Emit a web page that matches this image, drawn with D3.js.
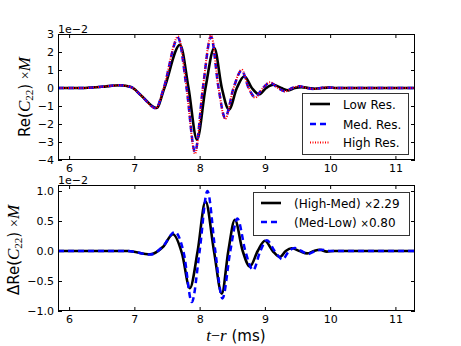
<!DOCTYPE html>
<html>
<head>
<meta charset="utf-8">
<script src="https://cdn.jsdelivr.net/npm/d3@7"></script>
<style>
body { margin: 0; background: #fff; }
svg text { font-family: "DejaVu Sans", sans-serif; }
</style>
</head>
<body>
<svg id="chart" width="461" height="346"></svg>
<script>
// top panel: Re(C22) x M, units of 1e-2
const lowT  = [5.83, 6.2, 6.5, 6.78, 6.95, 7.1, 7.34, 7.46, 7.70, 7.83, 7.96, 8.09, 8.225, 8.34, 8.45, 8.57, 8.685, 8.80, 8.91, 9.02, 9.13, 9.25, 9.36, 9.46, 9.56, 9.67, 9.77, 9.87, 9.97, 10.1, 11.3];
const lowV  = [0, 0, 0.07, 0.15, 0.05, -0.4, -1.11, 0, 2.4, 0, -2.87, 0, 2.22, 0, -1.2, 0, 0.65, 0, -0.35, 0, 0.18, 0, -0.13, 0, 0.05, 0, -0.04, 0, 0.02, 0, 0];
const medT  = [5.83, 6.2, 6.5, 6.78, 6.95, 7.1, 7.33, 7.45, 7.67, 7.80, 7.93, 8.05, 8.175, 8.29, 8.39, 8.52, 8.645, 8.75, 8.85, 8.97, 9.08, 9.2, 9.31, 9.42, 9.53, 9.64, 9.75, 9.86, 9.96, 10.1, 11.3];
const medV  = [0, 0, 0.07, 0.15, 0.05, -0.4, -1.12, 0, 2.78, 0, -3.55, 0, 2.85, 0, -1.65, 0, 0.98, 0, -0.5, 0, 0.3, 0, -0.18, 0, 0.1, 0, -0.05, 0, 0.03, 0, 0];
const highV = [0, 0, 0.07, 0.15, 0.05, -0.4, -1.13, 0, 2.86, 0, -3.66, 0, 2.93, 0, -1.72, 0, 1.02, 0, -0.53, 0, 0.32, 0, -0.19, 0, 0.1, 0, -0.05, 0, 0.03, 0, 0];

// bottom panel: differences, units of 1e-2
const hmT = [5.83, 6.9, 7.24, 7.44, 7.59, 7.73, 7.85, 7.97, 8.09, 8.22, 8.34, 8.44, 8.54, 8.66, 8.77, 8.89, 9.0, 9.12, 9.23, 9.32, 9.41, 9.53, 9.65, 9.75, 9.84, 9.95, 10.05, 11.3];
const hmV = [0, 0, -0.055, 0.07, 0.28, -0.04, -0.62, 0, 0.83, 0, -0.71, 0, 0.52, 0, -0.26, 0, 0.17, 0, -0.1, 0, 0.045, 0, -0.04, 0, 0.02, -0.01, 0, 0];
const mlT = [5.83, 6.9, 7.24, 7.44, 7.62, 7.76, 7.88, 8.0, 8.12, 8.24, 8.35, 8.47, 8.58, 8.70, 8.82, 8.93, 9.03, 9.15, 9.27, 9.37, 9.46, 9.56, 9.66, 9.77, 9.87, 10.0, 11.3];
const mlV = [0, 0, -0.06, 0.08, 0.32, -0.05, -0.85, 0, 1.0, 0, -0.79, 0, 0.54, 0, -0.32, 0, 0.18, 0, -0.14, 0, 0.05, 0, -0.05, 0, 0.02, 0, 0];

const xTicks = [6, 7, 8, 9, 10, 11];
const topYTicks = [-4, -3, -2, -1, 0, 1, 2, 3];
const botYTicks = [-1.0, -0.5, 0.0, 0.5, 1.0];

const svg = d3.select('#chart');
const X0 = 58, X1 = 415;

const xScale = d3.scaleLinear().domain([5.83, 11.3]).range([X0, X1]);
const yTop = d3.scaleLinear().domain([-4, 3]).range([160, 34]);
const yBot = d3.scaleLinear().domain([-1, 1.1]).range([311, 185]);

const minus = s => s.replace('-', '\u2212');

function panel(id, yScale, yTicks, yFmt) {
    const g = svg.append('g').attr('id', id);
    const [ya, yb] = yScale.range();

    g.append('clipPath').attr('id', id + '-clip')
    .append('rect')
    .attr('x', X0).attr('y', yb)
    .attr('width', X1 - X0).attr('height', ya - yb);

    const bottom = g.append('g')
    .attr('transform', `translate(0,${ya})`)
    .call(d3.axisBottom(xScale).tickValues(xTicks).tickSize(-4).tickPadding(4).tickFormat(d3.format('d')));
    const top = g.append('g')
    .attr('transform', `translate(0,${yb})`)
    .call(d3.axisTop(xScale).tickValues(xTicks).tickSize(-4).tickFormat(''));
    const left = g.append('g')
    .attr('transform', `translate(${X0},0)`)
    .call(d3.axisLeft(yScale).tickValues(yTicks).tickSize(-4).tickPadding(4).tickFormat(d => minus(yFmt(d))));
    const right = g.append('g')
    .attr('transform', `translate(${X1},0)`)
    .call(d3.axisRight(yScale).tickValues(yTicks).tickSize(-4).tickFormat(''));

    [bottom, top, left, right].forEach(a => {
        a.select('.domain').remove();
        a.selectAll('text').attr('font-size', 11).attr('font-family', '"DejaVu Sans", sans-serif').attr('fill', '#000');
        a.selectAll('line').attr('stroke', '#000');
    });

    g.append('text')
    .attr('x', X0).attr('y', yb - 1)
    .attr('font-size', 11)
    .text('1e\u22122');

    const lines = g.append('g').attr('clip-path', `url(#${id}-clip)`);
    g.append('rect')
    .attr('x', X0 + 0.5).attr('y', yb + 0.5)
    .attr('width', X1 - X0 - 1).attr('height', ya - yb - 1)
    .attr('fill', 'none').attr('stroke', '#000').attr('stroke-width', 1);
    return lines;
}

function drawLine(g, yScale, ts, vs, color, width, dash) {
    const line = d3.line()
    .x(d => xScale(d[0]))
    .y(d => yScale(d[1]))
    .curve(d3.curveMonotoneX);
    g.append('path')
    .datum(ts.map((t, i) => [t, vs[i]]))
    .attr('d', line)
    .attr('fill', 'none')
    .attr('stroke', color)
    .attr('stroke-width', width)
    .attr('stroke-dasharray', dash);
}

const gTop = panel('top', yTop, topYTicks, d3.format('d'));
drawLine(gTop, yTop, lowT, lowV, '#000', 2.6, null);
drawLine(gTop, yTop, medT, medV, '#0000ff', 2.5, '6,4');
drawLine(gTop, yTop, medT, highV, '#ff0000', 2, '1,1.5');

const gBot = panel('bot', yBot, botYTicks, d3.format('.1f'));
drawLine(gBot, yBot, hmT, hmV, '#000', 2.6, null);
drawLine(gBot, yBot, mlT, mlV, '#0000ff', 2.5, '6,4');

// legends
function legend(x, y, w, h, entries, textX) {
    const g = svg.append('g');
    g.append('rect')
    .attr('x', x + 0.5).attr('y', y + 0.5).attr('width', w).attr('height', h)
    .attr('fill', '#fff').attr('stroke', '#333').attr('stroke-width', 1);
    entries.forEach(e => {
        g.append('line')
        .attr('x1', x + 8).attr('x2', x + 28).attr('y1', e.y).attr('y2', e.y)
        .attr('stroke', e.color).attr('stroke-width', e.width)
        .attr('stroke-dasharray', e.dash);
        const t = g.append('text')
        .attr('x', textX).attr('y', e.y + 4.5)
        .attr('font-size', 12);
        e.parts.forEach(p => {
            t.append('tspan').attr('font-family', p.f || null).attr('font-size', p.s || null).text(p.t);
        });
    });
}

legend(302, 93, 106, 61, [
    {y: 104, color: '#000', width: 2.6, dash: null, parts: [{t: 'Low Res.'}]},
    {y: 124, color: '#0000ff', width: 2.5, dash: '6,4', parts: [{t: 'Med. Res.'}]},
    {y: 142.5, color: '#ff0000', width: 2, dash: '1,1.5', parts: [{t: 'High Res.'}]}
], 343);

legend(253, 192, 156, 43, [
    {y: 203, color: '#000', width: 2.6, dash: null, parts: [{t: '(High-Med) '}, {t: '\u00d7', s: 10}, {t: '2.29'}]},
    {y: 222, color: '#0000ff', width: 2.5, dash: '6,4', parts: [{t: '(Med-Low) '}, {t: '\u00d7', s: 10}, {t: '0.80'}]}
], 294);

// axis labels
const serif = '"Liberation Serif", serif';
function yLabel(x, y, prefix) {
    const t = svg.append('text')
    .attr('transform', `translate(${x},${y}) rotate(-90)`)
    .attr('text-anchor', 'middle')
    .attr('font-size', 15);
    t.append('tspan').text(prefix + 'Re(');
    t.append('tspan').attr('font-family', serif).attr('font-style', 'italic').attr('font-size', 17).text('C');
    t.append('tspan').attr('font-family', serif).attr('font-size', 11).attr('dy', 3).text('22');
    t.append('tspan').attr('dy', -3).text(') ');
    t.append('tspan').attr('font-family', serif).attr('font-size', 14).text('\u00d7');
    t.append('tspan').attr('font-family', serif).attr('font-style', 'italic').attr('font-size', 17).text('M');
}
yLabel(30, 97, '');
yLabel(19, 250, '\u0394');

const xl = svg.append('text')
.attr('x', 236).attr('y', 341)
.attr('text-anchor', 'middle')
.attr('font-size', 15);
xl.append('tspan').attr('font-family', serif).attr('font-style', 'italic').attr('font-size', 17).text('t');
xl.append('tspan').attr('font-family', serif).attr('font-size', 16).text('\u2212');
xl.append('tspan').attr('font-family', serif).attr('font-style', 'italic').attr('font-size', 17).text('r');
xl.append('tspan').text(' (ms)');
</script>
</body>
</html>
